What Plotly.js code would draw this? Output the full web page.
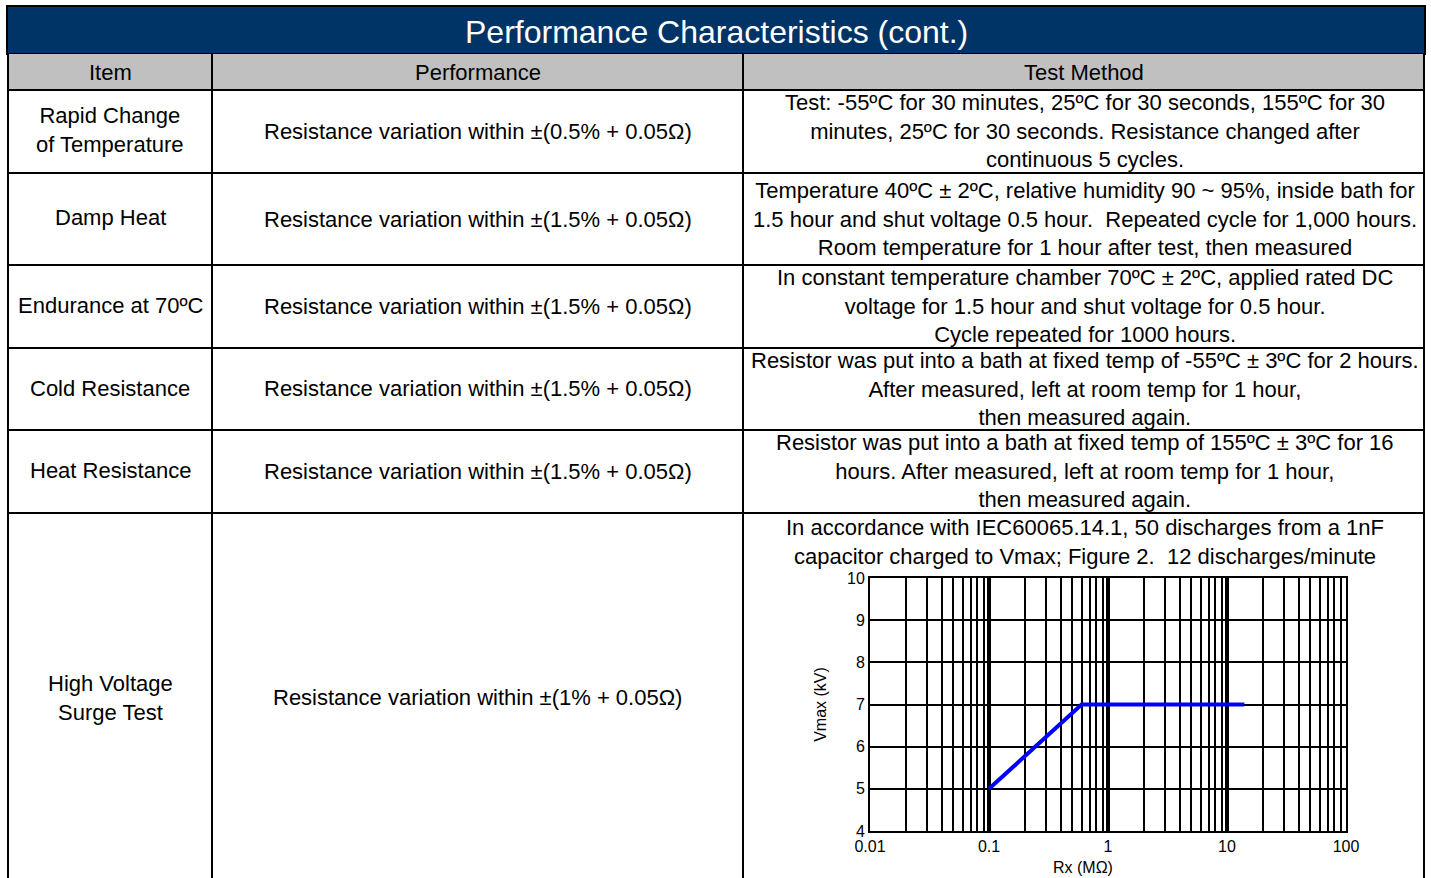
<!DOCTYPE html>
<html>
<head>
<meta charset="utf-8">
<script src="https://cdn.plot.ly/plotly-3.0.1.min.js"></script>
<style>
  html, body { margin: 0; padding: 0; background: #ffffff; }
  #chart { width: 1431px; height: 878px; }
</style>
</head>
<body>
<div id="chart"></div>
<script>
// ---------------- data ----------------
const tableTitle = 'Performance Characteristics (cont.)';
const headers = ['Item', 'Performance', 'Test Method'];
const items = [
  'Rapid Change<br>of Temperature',
  'Damp Heat',
  'Endurance at 70ºC',
  'Cold Resistance',
  'Heat Resistance',
  'High Voltage<br>Surge Test'
];
const performance = [
  'Resistance variation within ±(0.5% + 0.05Ω)',
  'Resistance variation within ±(1.5% + 0.05Ω)',
  'Resistance variation within ±(1.5% + 0.05Ω)',
  'Resistance variation within ±(1.5% + 0.05Ω)',
  'Resistance variation within ±(1.5% + 0.05Ω)',
  'Resistance variation within ±(1% + 0.05Ω)'
];
const testMethod = [
  'Test: -55ºC for 30 minutes, 25ºC for 30 seconds, 155ºC for 30<br>minutes, 25ºC for 30 seconds. Resistance changed after<br>continuous 5 cycles.',
  'Temperature 40ºC ± 2ºC, relative humidity 90 ~ 95%, inside bath for<br>1.5 hour and shut voltage 0.5 hour.  Repeated cycle for 1,000 hours.<br>Room temperature for 1 hour after test, then measured',
  'In constant temperature chamber 70ºC ± 2ºC, applied rated DC<br>voltage for 1.5 hour and shut voltage for 0.5 hour.<br>Cycle repeated for 1000 hours.',
  'Resistor was put into a bath at fixed temp of -55ºC ± 3ºC for 2 hours.<br>After measured, left at room temp for 1 hour,<br>then measured again.',
  'Resistor was put into a bath at fixed temp of 155ºC ± 3ºC for 16<br>hours. After measured, left at room temp for 1 hour,<br>then measured again.',
  'In accordance with IEC60065.14.1, 50 discharges from a 1nF<br>capacitor charged to Vmax; Figure 2.  12 discharges/minute'
];

// surge chart series
const rxMOhm = [0.1, 0.6, 14];
const vmaxKV = [5, 7, 7];
const xTickVals = [0.01, 0.1, 1, 10, 100];
const xTickText = ['0.01', '0.1', '1', '10', '100'];
const yTickVals = [4, 5, 6, 7, 8, 9, 10];
const xTitle = 'Rx (MΩ)';
const yTitle = 'Vmax (kV)';

// ---------------- layout helpers ----------------
const W = 1431, H = 878;
const px = x => x / W;
const py = y => 1 - y / H;
const FONT = 'Liberation Sans, Arial, sans-serif';

const colEdges = [8, 212, 743, 1424];
const rowEdges = [90, 173, 265, 348, 430, 513, 878];
const titleTop = 6, titleBottom = 54, headerBottom = 90;

const shapes = [];
const annotations = [];

// title bar
shapes.push({type: 'rect', xref: 'paper', yref: 'paper',
  x0: px(7), x1: px(1425), y0: py(titleBottom), y1: py(titleTop),
  fillcolor: '#003366', line: {color: '#000000', width: 2}, layer: 'below'});
// header background
shapes.push({type: 'rect', xref: 'paper', yref: 'paper',
  x0: px(colEdges[0]), x1: px(colEdges[3]), y0: py(headerBottom), y1: py(titleBottom),
  fillcolor: '#c0c0c0', line: {width: 0}, layer: 'below'});
// horizontal row lines
rowEdges.slice(0, 6).forEach(y => {
  shapes.push({type: 'line', xref: 'paper', yref: 'paper',
    x0: px(colEdges[0]), x1: px(colEdges[3]), y0: py(y), y1: py(y),
    line: {color: '#000000', width: 2}});
});
// vertical column lines
colEdges.forEach(x => {
  shapes.push({type: 'line', xref: 'paper', yref: 'paper',
    x0: px(x), x1: px(x), y0: py(titleBottom), y1: py(H + 2),
    line: {color: '#000000', width: 2}});
});

// title text
annotations.push({xref: 'paper', yref: 'paper', x: px(716), y: py(32),
  text: tableTitle, showarrow: false, xanchor: 'center', yanchor: 'middle',
  font: {family: FONT, size: 32, color: '#ffffff'}});

// header text
const colCenters = colEdges.slice(0, 3).map((x, i) => (x + colEdges[i + 1]) / 2);
headers.forEach((h, i) => {
  annotations.push({xref: 'paper', yref: 'paper', x: px(colCenters[i]), y: py(72),
    text: h, showarrow: false, xanchor: 'center', yanchor: 'middle',
    font: {family: FONT, size: 22, color: '#000000'}});
});

// body text
const bodyFont = {family: FONT, size: 22, color: '#000000'};
items.forEach((t, r) => {
  const last = r === items.length - 1;
  const yc = last ? 698 : (rowEdges[r] + rowEdges[r + 1]) / 2 - 1;
  annotations.push({xref: 'paper', yref: 'paper', x: px(colCenters[0]), y: py(yc),
    text: t, showarrow: false, xanchor: 'center', yanchor: 'middle', font: bodyFont});
});
performance.forEach((t, r) => {
  const last = r === performance.length - 1;
  const yc = last ? 697 : (rowEdges[r] + rowEdges[r + 1]) / 2;
  annotations.push({xref: 'paper', yref: 'paper', x: px(colCenters[1]), y: py(yc),
    text: t, showarrow: false, xanchor: 'center', yanchor: 'middle', font: bodyFont});
});
testMethod.forEach((t, r) => {
  const last = r === testMethod.length - 1;
  const yc = last ? 542 : (rowEdges[r] + rowEdges[r + 1]) / 2 - 0.5;
  annotations.push({xref: 'paper', yref: 'paper', x: px(colCenters[2] + 1), y: py(yc),
    text: t, showarrow: false, xanchor: 'center', yanchor: 'middle', font: bodyFont});
});

const tickFont = {family: FONT, size: 16, color: '#000000'};

// x axis title (centred under the chart block as in the original figure)
annotations.push({xref: 'paper', yref: 'paper', x: px(1083), y: py(867),
  text: xTitle, showarrow: false, xanchor: 'center', yanchor: 'middle', font: tickFont});

// minor gridline values for log axis (2..9 per decade)
const minorVals = [];
[0.01, 0.1, 1, 10].forEach(d => { for (let k = 2; k <= 9; k++) minorVals.push(+(k * d).toPrecision(3)); });

const trace = {
  type: 'scatter', mode: 'lines',
  x: rxMOhm, y: vmaxKV,
  line: {color: '#0000ff', width: 4},
  hoverinfo: 'skip', showlegend: false
};

const layout = {
  width: W, height: H,
  margin: {l: 0, r: 0, t: 0, b: 0, pad: 0},
  paper_bgcolor: '#ffffff',
  plot_bgcolor: '#ffffff',
  showlegend: false,
  shapes: shapes,
  annotations: annotations,
  xaxis: {
    type: 'log',
    domain: [px(870), px(1346)],
    range: [-2, 2],
    tickmode: 'array', tickvals: xTickVals, ticktext: xTickText,
    ticks: '', tickfont: tickFont,
    showgrid: true, gridcolor: '#000000', gridwidth: 4,
    minor: {tickmode: 'array', tickvals: minorVals, showgrid: true, gridcolor: '#000000', gridwidth: 2, ticks: ''},
    showline: true, linecolor: '#000000', linewidth: 2, mirror: true,
    zeroline: false, automargin: false
  },
  yaxis: {
    domain: [py(831), py(578)],
    range: [4, 10],
    tickmode: 'array', tickvals: yTickVals,
    ticks: '', tickfont: tickFont,
    showgrid: true, gridcolor: '#000000', gridwidth: 2,
    showline: true, linecolor: '#000000', linewidth: 2, mirror: true,
    zeroline: false, automargin: false,
    title: {text: yTitle, font: tickFont, standoff: 16}
  }
};

Plotly.newPlot('chart', [trace], layout, {displayModeBar: false, staticPlot: true});
</script>
</body>
</html>
